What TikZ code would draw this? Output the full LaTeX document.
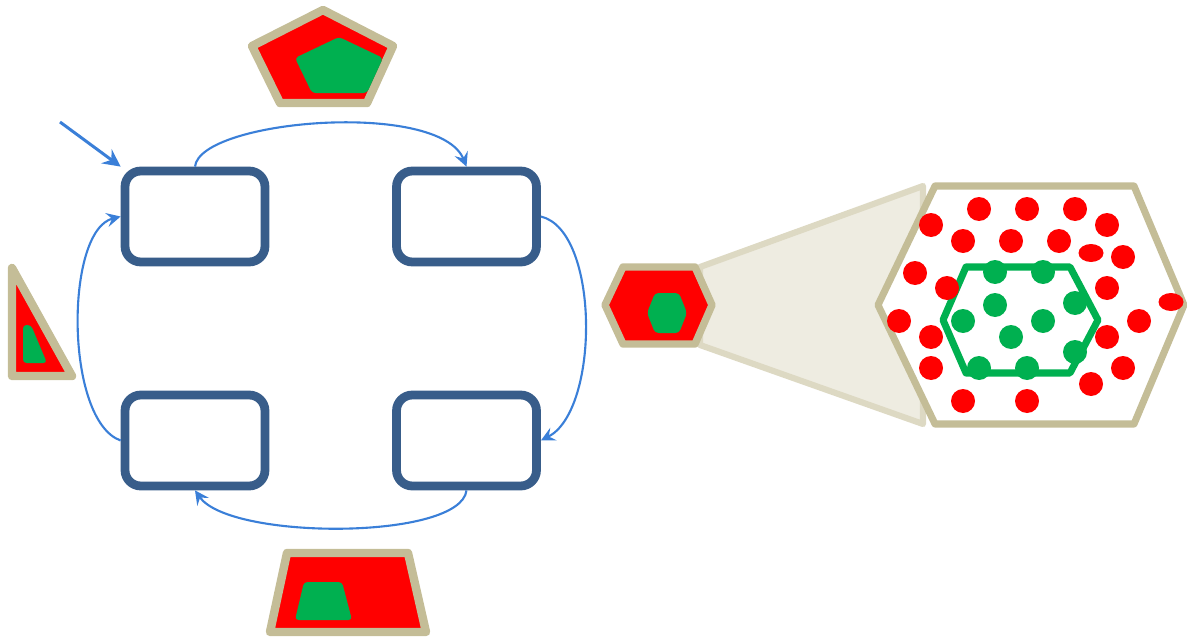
\documentclass[tikz,border=0pt]{standalone}
\usepackage{tikz}
\usetikzlibrary{arrows.meta}
\definecolor{BoxBlue}{HTML}{385D8A}
\definecolor{ArrBlue}{HTML}{3A7FD8}
\definecolor{mytan}{HTML}{C4BD97}
\definecolor{beamfill}{HTML}{EEECE1}
\definecolor{beamedge}{HTML}{DDD9C3}
\definecolor{myred}{HTML}{FF0000}
\definecolor{mygreen}{HTML}{00B050}

\begin{document}
\begin{tikzpicture}[x=0.02cm,y=-0.02cm,
    stage/.style={draw=BoxBlue,line width=5pt,rounded corners=9pt,minimum width=2.8cm,minimum height=1.82cm,fill=white},
    flow/.style={ArrBlue,line width=1.2pt,-{Stealth[length=8pt,width=8pt,inset=3pt]}},
    shell/.style={draw=mytan,fill=myred,line width=4.8pt,line join=round},
    core/.style={fill=mygreen,rounded corners=2pt}]
  \useasboundingbox (0,0) rectangle (1187,639);
  % the four stages of the cycle
  \node[stage] (tl) at (195,216.5) {};
  \node[stage] (tr) at (466.5,216.5) {};
  \node[stage] (bl) at (195,440.5) {};
  \node[stage] (br) at (466.5,440.5) {};
  \coordinate (entry) at (60,122);
  \draw[ArrBlue,line width=1.7pt,-{Stealth[length=10pt,width=10pt,inset=3.5pt]}] (entry) -- (tl.north west);
  \draw[flow] (tl.north) .. controls +(5,-47) and +(-27,-67) .. (tr.north);
  \draw[flow] (tr.east) .. controls +(59,14) and +(59,-30) .. (br.east);
  \draw[flow] (br.south) .. controls +(-6,50) and +(35,50) .. (bl.south);
  \draw[flow] (bl.west) .. controls +(-56,-20) and +(-56,14) .. (tl.west);
  % grains beside each stage
  \draw[shell] (323,10) -- (393,46) -- (367,103) -- (280,103) -- (252,46) -- cycle;
  \fill[core] (339,37) -- (383,58) -- (367,93) -- (312,93) -- (295,58) -- cycle;
  \draw[shell] (12,268) -- (72,376) -- (12,376) -- cycle;
  \fill[core] (23,325) -- (31,325) -- (47,363) -- (23,363) -- cycle;
  \draw[shell] (287,553) -- (408,553) -- (426,632) -- (270,632) -- cycle;
  \fill[core] (304,582) -- (342,582) -- (352,620) -- (295,620) -- cycle;
  % zoom beam and magnified grain
  \filldraw[fill=beamfill,draw=beamedge,line width=3.5pt,line join=round] (700,267) -- (923,186) -- (923,424) -- (700,345) -- cycle;
  \draw[shell,line width=4.2pt] (605,305) -- (623,267) -- (695,267) -- (712,305) -- (695,344) -- (623,344) -- cycle;
  \fill[core] (647,313) -- (655,293) -- (679,293) -- (687,313) -- (679,333) -- (655,333) -- cycle;
  \filldraw[fill=white,draw=mytan,line width=4pt,line join=round] (878,305) -- (935,186) -- (1134,186) -- (1184,305) -- (1134,424) -- (935,424) -- cycle;
  \draw[mygreen,line width=4pt,line join=round] (943,320) -- (966,267) -- (1070,267) -- (1098,320) -- (1070,373) -- (966,373) -- cycle;
  \foreach \p in {(995,272),(1043,272),(995,305),(963,321),(1043,321),(1075,303),(1011,337),(1075,352),(979,368),(1027,368)}
    \fill[mygreen] \p circle (0.24cm);
  \foreach \p in {(979,209),(1027,209),(1075,209),(931,225),(1107,225),(963,241),(1011,241),(1059,241),(1123,257),
                  (915,273),(947,288),(1107,288),(899,321),(1139,321),(931,337),(1107,337),(931,368),(1123,368),
                  (1091,384),(963,401),(1027,401)}
    \fill[myred] \p circle (0.24cm);
  \fill[myred] (1091,253) ellipse (0.25cm and 0.18cm);
  \fill[myred] (1171,302) ellipse (0.25cm and 0.18cm);
\end{tikzpicture}
\end{document}
